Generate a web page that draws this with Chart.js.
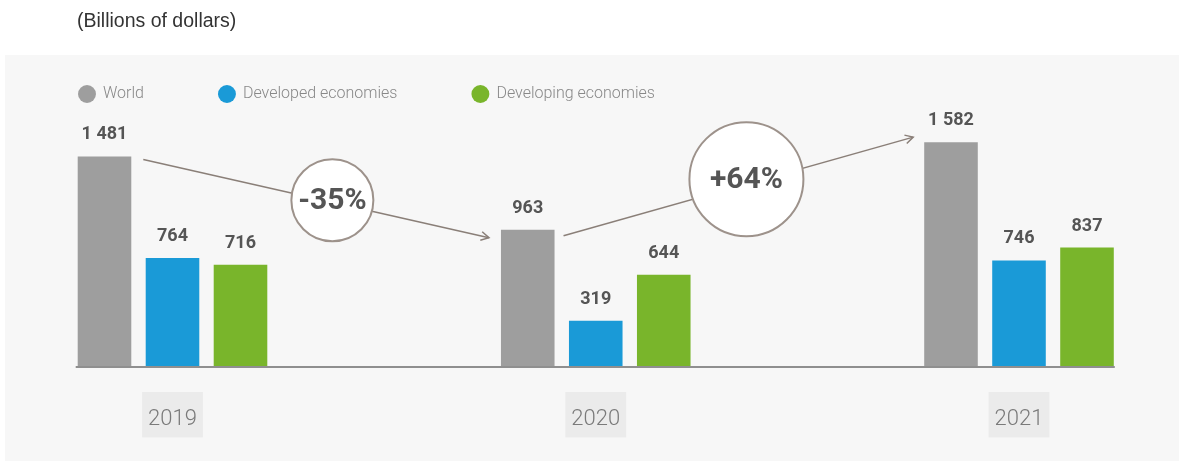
<!DOCTYPE html>
<html><head><meta charset="utf-8">
<script src="https://cdn.jsdelivr.net/npm/chart.js@4.4.1/dist/chart.umd.min.js"></script>
<style>
html,body{margin:0;padding:0;background:#fff;}
#wrap{position:relative;width:1179px;height:461px;}
</style></head><body>
<div id="wrap"><canvas id="c"></canvas></div>
<script>
const chartTitle = '(Billions of dollars)';
const years = ['2019', '2020', '2021'];
const seriesNames = ['World', 'Developed economies', 'Developing economies'];
const world = [1481, 963, 1582];
const developed = [764, 319, 746];
const developing = [716, 644, 837];
const seriesColors = ['#9e9e9e', '#1a9ad7', '#79b52b'];

// change bubbles between World bars (style/placement only)
const connectors = [
  {from: 0, to: 1, gap0: 12, dy0: 3, gap1: 12, dy1: 8, t: 0.547, cdy: -2, r: 41},
  {from: 1, to: 2, gap0: 9, dy0: 6, gap1: 11, dy1: -5, t: 0.523, cdy: -5, r: 57}
];

const fmt = v => String(v).replace(/\B(?=(\d{3})+(?!\d))/g, ' ');

const panelPlugin = {
  id: 'panel',
  beforeDraw(chart) {
    const ctx = chart.ctx;
    ctx.save();
    ctx.fillStyle = '#ffffff';
    ctx.fillRect(0, 0, chart.width, chart.height);
    ctx.fillStyle = '#f7f7f7';
    ctx.fillRect(5, 55, chart.width - 5, chart.height - 55);
    ctx.fillStyle = '#333333';
    ctx.font = '19.5px "Liberation Sans", Arial, sans-serif';
    ctx.textBaseline = 'middle';
    ctx.textAlign = 'left';
    ctx.fillText(chartTitle, 77, 22);
    ctx.restore();
  }
};

const overlayPlugin = {
  id: 'overlay',
  afterDatasetsDraw(chart) {
    const ctx = chart.ctx;
    const metas = chart.data.datasets.map((d, i) => chart.getDatasetMeta(i));
    const y0 = chart.scales.y.getPixelForValue(0);
    const first = metas[0].data[0];
    const last = metas[metas.length - 1].data[years.length - 1];
    ctx.save();
    // baseline
    ctx.strokeStyle = '#8f8f8f';
    ctx.lineWidth = 2;
    ctx.beginPath();
    ctx.moveTo(first.x - first.width / 2 - 2, y0 + 1);
    ctx.lineTo(last.x + last.width / 2 + 1, y0 + 1);
    ctx.stroke();
    // value labels
    ctx.font = 'bold 18px Roboto, sans-serif';
    ctx.fillStyle = '#555555';
    ctx.textAlign = 'center';
    ctx.textBaseline = 'alphabetic';
    metas.forEach((m, di) => m.data.forEach((bar, i) => {
      ctx.fillText(fmt(chart.data.datasets[di].data[i]), bar.x, bar.y - 17);
    }));
    // connectors
    const wm = metas[0];
    connectors.forEach(c => {
      const a = wm.data[c.from], b = wm.data[c.to];
      const x0 = a.x + a.width / 2 + c.gap0, yA = a.y + c.dy0;
      const x1 = b.x - b.width / 2 - c.gap1, yB = b.y + c.dy1;
      ctx.strokeStyle = '#8a7f78';
      ctx.lineWidth = 1.5;
      ctx.beginPath();
      ctx.moveTo(x0, yA);
      ctx.lineTo(x1, yB);
      ctx.stroke();
      const ang = Math.atan2(yB - yA, x1 - x0);
      const L = 9, sp = 0.5;
      ctx.beginPath();
      ctx.moveTo(x1 - L * Math.cos(ang - sp), yB - L * Math.sin(ang - sp));
      ctx.lineTo(x1, yB);
      ctx.lineTo(x1 - L * Math.cos(ang + sp), yB - L * Math.sin(ang + sp));
      ctx.stroke();
      const cx = x0 + c.t * (x1 - x0), cy = yA + c.t * (yB - yA) + c.cdy;
      ctx.beginPath();
      ctx.arc(cx, cy, c.r, 0, Math.PI * 2);
      ctx.fillStyle = '#ffffff';
      ctx.fill();
      ctx.strokeStyle = '#9d928b';
      ctx.lineWidth = 2;
      ctx.stroke();
      const pct = Math.round((world[c.to] - world[c.from]) / world[c.from] * 100);
      ctx.fillStyle = '#555555';
      ctx.font = 'bold 30px Roboto, sans-serif';
      ctx.textBaseline = 'middle';
      ctx.fillText((pct > 0 ? '+' : '') + pct + '%', cx, cy + 1);
    });
    ctx.restore();
  }
};

const seriesData = [world, developed, developing];

new Chart(document.getElementById('c'), {
  type: 'bar',
  data: {
    labels: years,
    datasets: seriesNames.map((name, i) => ({
      label: name,
      data: seriesData[i],
      backgroundColor: seriesColors[i],
      borderWidth: 0,
      clip: false,
      categoryPercentage: 0.482,
      barPercentage: 0.788
    }))
  },
  options: {
    responsive: true,
    maintainAspectRatio: false,
    devicePixelRatio: 1,
    animation: false,
    layout: {padding: {left: 4, top: 11, right: 160, bottom: 0}},
    plugins: {
      tooltip: {enabled: false},
      title: {display: false},
      legend: {
        position: 'top',
        align: 'start',
        maxHeight: 100,
        labels: {
          usePointStyle: true,
          pointStyle: 'circle',
          boxHeight: 12.7,
          padding: 75,
          color: '#888888',
          font: {family: 'Roboto', size: 16, weight: '300'}
        }
      }
    },
    scales: {
      x: {
        type: 'category',
        offset: false,
        grid: {display: false, drawTicks: false},
        border: {display: false},
        ticks: {
          font: {family: 'Roboto', size: 22, weight: '300'},
          color: '#7a7a7a',
          padding: 40,
          showLabelBackdrop: true,
          backdropColor: '#ebebeb',
          backdropPadding: {top: 14, bottom: 5, left: 6, right: 6},
          maxRotation: 0,
          autoSkip: false
        },
        afterFit(s) { s.height = 95; }
      },
      y: {
        display: true,
        min: 0,
        max: 1802,
        grid: {display: false, drawTicks: false},
        border: {display: false},
        ticks: {display: false},
        afterFit(s) { s.width = 168.5; }
      }
    }
  },
  plugins: [panelPlugin, overlayPlugin]
});
</script>
</body></html>
